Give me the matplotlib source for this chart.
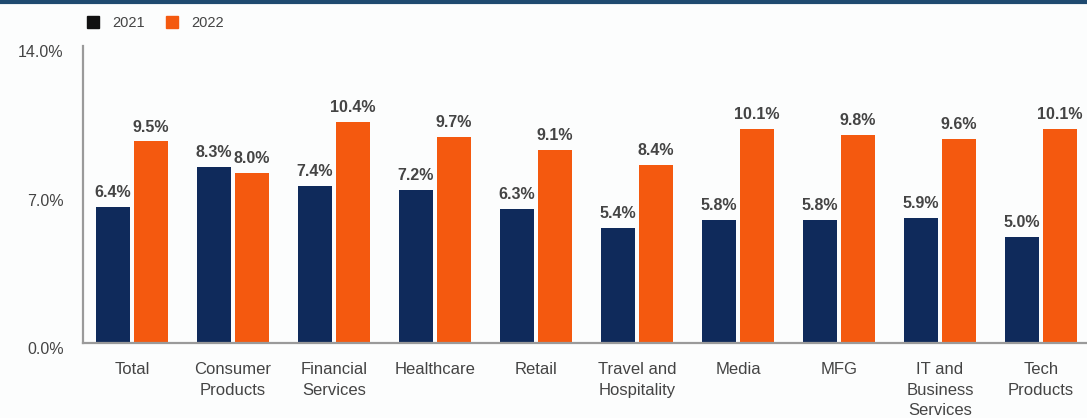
import matplotlib
matplotlib.use("Agg")
import matplotlib.pyplot as plt
import numpy as np
from matplotlib.patches import Rectangle
from matplotlib.lines import Line2D
from matplotlib.transforms import ScaledTranslation

categories = ["Total", "Consumer\nProducts", "Financial\nServices", "Healthcare", "Retail",
              "Travel and\nHospitality", "Media", "MFG", "IT and\nBusiness\nServices", "Tech\nProducts"]
v2021 = [6.4, 8.3, 7.4, 7.2, 6.3, 5.4, 5.8, 5.8, 5.9, 5.0]
v2022 = [9.5, 8.0, 10.4, 9.7, 9.1, 8.4, 10.1, 9.8, 9.6, 10.1]
yticks = [0.0, 7.0, 14.0]
series_names = ["2021", "2022"]

plt.rcParams['font.family'] = ['Liberation Sans', 'DejaVu Sans']

navy = "#0f2a5b"
orange = "#f4590f"
txt = "#444444"

fig = plt.figure(figsize=(10.87, 4.18), dpi=100)
fig.patch.set_facecolor("#fcfdfd")
ax = fig.add_axes([83/1087, 1 - 343/418, 1 - 83/1087, (343 - 46)/418])
ax.set_facecolor("none")

x = np.arange(len(categories))
w = 0.345
off = 0.188
b1 = ax.bar(x - off, v2021, w, color=navy)
b2 = ax.bar(x + off, v2022, w, color=orange)

for bars, vals in ((b1, v2021), (b2, v2022)):
    for r, v in zip(bars, vals):
        ax.annotate(f"{v:.1f}%", (r.get_x() + r.get_width()/2, v), xytext=(0, 5),
                    textcoords="offset points", ha="center", va="bottom",
                    fontsize=11.5, fontweight="bold", color=txt)

ax.set_xlim(-0.485, 9.455)
ax.set_ylim(0, 14.0)
ax.set_yticks(yticks)
ax.set_yticklabels([f"{t:.1f}%" for t in yticks], fontsize=11.5, color=txt)
ax.set_xticks(x)
ax.set_xticklabels(categories, fontsize=12, color=txt, linespacing=1.45)
ax.tick_params(axis="both", length=0)
ax.tick_params(axis="y", pad=14)
ax.tick_params(axis="x", pad=14)
for lab in ax.get_yticklabels():
    lab.set_transform(lab.get_transform() + ScaledTranslation(0, -5/100, fig.dpi_scale_trans))
for s in ("top", "right"):
    ax.spines[s].set_visible(False)
ax.spines["left"].set_color("#9a9a9a")
ax.spines["bottom"].set_color("#9a9a9a")
ax.spines["left"].set_linewidth(1.6)
ax.spines["bottom"].set_linewidth(1.6)

handles = [Rectangle((0, 0), 1, 1, color="#111111"), Rectangle((0, 0), 1, 1, color=orange)]
fig.legend(handles, series_names, loc="upper left", bbox_to_anchor=(74/1087, 1 - 3/418),
           ncol=2, frameon=False, fontsize=10.5, handlelength=0.8, handleheight=0.8,
           columnspacing=1.5, handletextpad=0.9, labelcolor=txt)

fig.add_artist(Line2D([0, 1], [1 - 1.5/418, 1 - 1.5/418], transform=fig.transFigure,
                      color="#1f4a70", linewidth=3))

fig.savefig("out.png", dpi=100, facecolor=fig.get_facecolor())
